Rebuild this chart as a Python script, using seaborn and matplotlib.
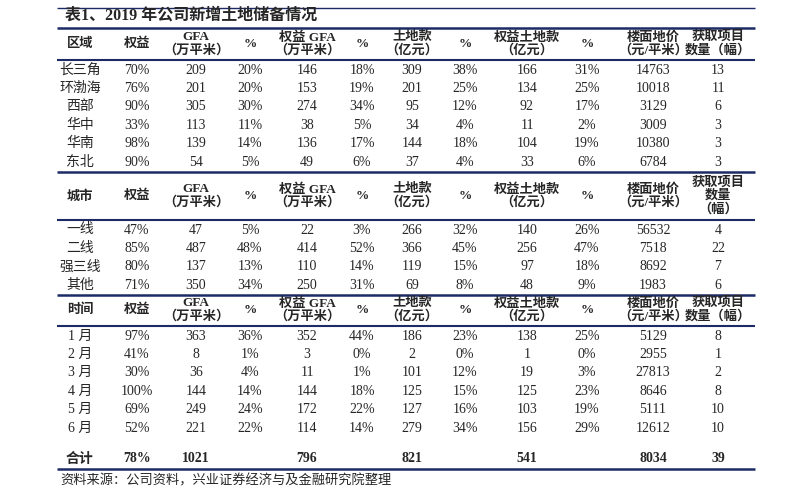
import matplotlib
matplotlib.use("Agg")
import matplotlib.pyplot as plt
import seaborn as sns

sns.set_theme(style="white")
plt.rcParams['font.family'] = ['Liberation Serif', 'Noto Sans CJK SC', 'DejaVu Sans']

title = "表1、2019 年公司新增土地储备情况"
source = "资料来源：公司资料，兴业证券经济与及金融研究院整理"

hdr_cols = ["权益", "GFA\n（万平米）", "%", "权益 GFA\n（万平米）", "%", "土地款\n（亿元）", "%",
            "权益土地款\n（亿元）", "%", "楼面地价\n（元/平米）"]

regions = ["长三角", "环渤海", "西部", "华中", "华南", "东北"]
region_vals = [
    ["70%", "209", "20%", "146", "18%", "309", "38%", "166", "31%", "14763", "13"],
    ["76%", "201", "20%", "153", "19%", "201", "25%", "134", "25%", "10018", "11"],
    ["90%", "305", "30%", "274", "34%", "95", "12%", "92", "17%", "3129", "6"],
    ["33%", "113", "11%", "38", "5%", "34", "4%", "11", "2%", "3009", "3"],
    ["98%", "139", "14%", "136", "17%", "144", "18%", "104", "19%", "10380", "3"],
    ["90%", "54", "5%", "49", "6%", "37", "4%", "33", "6%", "6784", "3"],
]
cities = ["一线", "二线", "强三线", "其他"]
city_vals = [
    ["47%", "47", "5%", "22", "3%", "266", "32%", "140", "26%", "56532", "4"],
    ["85%", "487", "48%", "414", "52%", "366", "45%", "256", "47%", "7518", "22"],
    ["80%", "137", "13%", "110", "14%", "119", "15%", "97", "18%", "8692", "7"],
    ["71%", "350", "34%", "250", "31%", "69", "8%", "48", "9%", "1983", "6"],
]
months = ["1 月", "2 月", "3 月", "4 月", "5 月", "6 月"]
month_vals = [
    ["97%", "363", "36%", "352", "44%", "186", "23%", "138", "25%", "5129", "8"],
    ["41%", "8", "1%", "3", "0%", "2", "0%", "1", "0%", "2955", "1"],
    ["30%", "36", "4%", "11", "1%", "101", "12%", "19", "3%", "27813", "2"],
    ["100%", "144", "14%", "144", "18%", "125", "15%", "125", "23%", "8646", "8"],
    ["69%", "249", "24%", "172", "22%", "127", "16%", "103", "19%", "5111", "10"],
    ["52%", "221", "22%", "114", "14%", "279", "34%", "156", "29%", "12612", "10"],
]
total_label = "合计"
total_vals = ["78%", "1021", "", "796", "", "821", "", "541", "", "8034", "39"]

xs = [80, 137, 196, 250, 307, 362, 412, 465, 527, 587, 653, 718]
navy = "#1c2a66"
fs = 10
hfs = 9.5

fig = plt.figure(figsize=(7.97, 5.0), dpi=100)
ax = fig.add_axes([0, 0, 1, 1])
ax.set_xlim(0, 797)
ax.set_ylim(500, 0)
ax.axis("off")

ax.text(65, 16, title, fontsize=11.5, fontweight="bold", va="center", ha="left")

def hline(y, lw=1.3):
    ax.plot([57, 755], [y, y], color=navy, lw=lw, solid_capstyle="butt")

hline(8, 1.0)
hline(28, 1.8)

def header(yc, first, last):
    ax.text(xs[0], yc, first, fontsize=hfs, ha="center", va="center", fontweight="bold")
    for x, h in zip(xs[1:-1], hdr_cols):
        ax.text(x, yc, h, fontsize=hfs, ha="center", va="center", fontweight="bold", linespacing=1.1)
    ax.text(xs[-1], yc, last, fontsize=hfs, ha="center", va="center", fontweight="bold", linespacing=1.1)

def rows(y0, dy, labels, vals):
    for i, (lab, v) in enumerate(zip(labels, vals)):
        y = y0 + i * dy
        ax.text(xs[0], y, lab, fontsize=fs, ha="center", va="center")
        for x, t in zip(xs[1:], v):
            ax.text(x, y, t, fontsize=fs, ha="center", va="center")

header(44, "区域", "获取项目\n数量（幅）")
hline(60, 1.5)
rows(70, 18.4, regions, region_vals)
hline(172, 1.8)
header(196, "城市", "获取项目\n数量\n（幅）")
hline(220, 1.5)
rows(230, 18.4, cities, city_vals)
hline(295, 1.8)
header(310, "时间", "获取项目\n数量（幅）")
hline(326, 1.5)
rows(336, 18.4, months, month_vals)

ax.text(xs[0], 459, total_label, fontsize=fs, ha="center", va="center", fontweight="bold")
for x, t in zip(xs[1:], total_vals):
    ax.text(x, 459, t, fontsize=fs, ha="center", va="center", fontweight="bold")
hline(469, 1.8)
ax.text(60, 481, source, fontsize=9.5, ha="left", va="center")

fig.savefig("out.png", dpi=100)
